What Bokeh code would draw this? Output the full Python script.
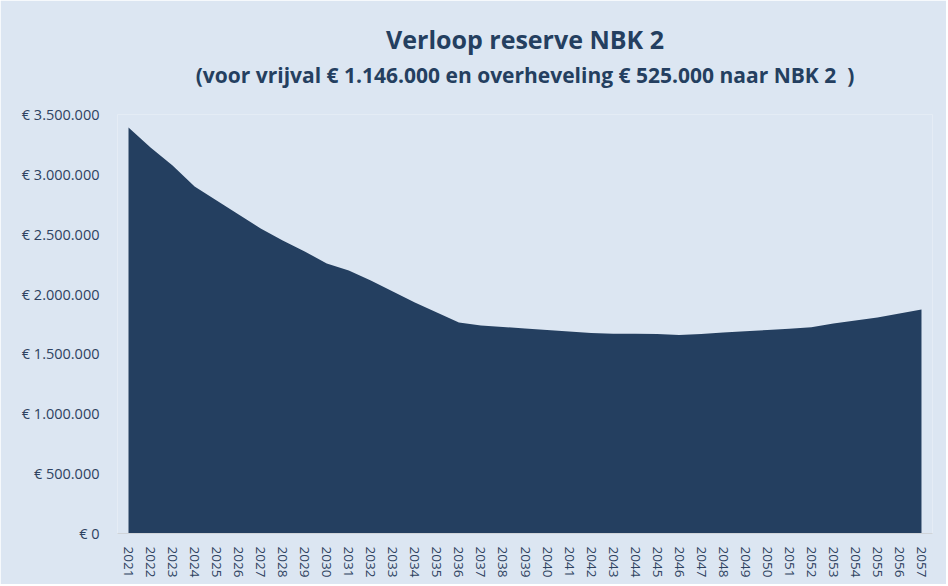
from bokeh.plotting import figure
from bokeh.models import FactorRange, FixedTicker, Title, Range1d
from bokeh.embed import file_html
from bokeh.resources import INLINE

years = [str(y) for y in range(2021, 2058)]
reserve = [3391000, 3224000, 3074000, 2899000, 2782000, 2665000, 2548000, 2448000,
           2356000, 2255000, 2197000, 2113000, 2021000, 1930000, 1846000, 1763000,
           1737000, 1725000, 1712000, 1700000, 1687000, 1675000, 1668000, 1668000,
           1666000, 1658000, 1667000, 1678000, 1689000, 1700000, 1711000, 1723000,
           1754000, 1779000, 1804000, 1838000, 1871000]
y_ticks = [0, 500000, 1000000, 1500000, 2000000, 2500000, 3000000, 3500000]
y_tick_labels = ["€ 0", "€ 500.000", "€ 1.000.000", "€ 1.500.000", "€ 2.000.000",
                 "€ 2.500.000", "€ 3.000.000", "€ 3.500.000"]
title_text = "Verloop reserve NBK 2"
subtitle_text = "(voor vrijval € 1.146.000 en overheveling € 525.000 naar NBK 2\u00a0\u00a0)"

BG = "#DCE6F2"
NAVY = "#243F60"
TXT = "#2E4260"
FONT = "Open Sans"

p = figure(width=946, height=584, x_range=FactorRange(*years, range_padding=0),
           y_range=Range1d(0, 3500000), output_backend="svg", toolbar_location=None,
           title=None, min_border_left=117, min_border_right=14,
           min_border_bottom=51, min_border_top=114)
p.background_fill_color = BG
p.border_fill_color = BG
p.outline_line_color = None

p.varea(x=years, y1=0, y2=reserve, fill_color=NAVY)

spacer = Title(text="\u00a0", text_font=FONT, text_font_size="10px", standoff=10,
               text_color=BG)
sub = Title(text=subtitle_text, align="center", text_font=FONT, text_font_size="21px",
            text_font_style="bold", text_color=NAVY, standoff=0)
main = Title(text=title_text, align="center", text_font=FONT, text_font_size="25px",
             text_font_style="bold", text_color=NAVY, standoff=5)
p.add_layout(spacer, "above")
p.add_layout(sub, "above")
p.add_layout(main, "above")

p.xgrid.grid_line_color = None
p.ygrid.grid_line_color = None

p.xaxis.axis_line_color = "#D0D4D9"
p.xaxis.major_tick_line_color = None
p.xaxis.minor_tick_line_color = None
p.xaxis.major_label_orientation = "vertical"
p.xaxis.major_label_text_font = FONT
p.xaxis.major_label_text_font_size = "13.5px"
p.xaxis.major_label_text_color = TXT
p.xaxis.major_label_standoff = 7

p.yaxis.ticker = FixedTicker(ticks=y_ticks)
p.yaxis.major_label_overrides = {t: l for t, l in zip(y_ticks, y_tick_labels)}
p.yaxis.axis_line_color = None
p.yaxis.major_tick_line_color = None
p.yaxis.minor_tick_line_color = None
p.yaxis.major_label_text_font = FONT
p.yaxis.major_label_text_font_size = "14.5px"
p.yaxis.major_label_text_color = TXT
p.yaxis.major_label_standoff = 12

open("out.html", "w").write(file_html(p, INLINE))
